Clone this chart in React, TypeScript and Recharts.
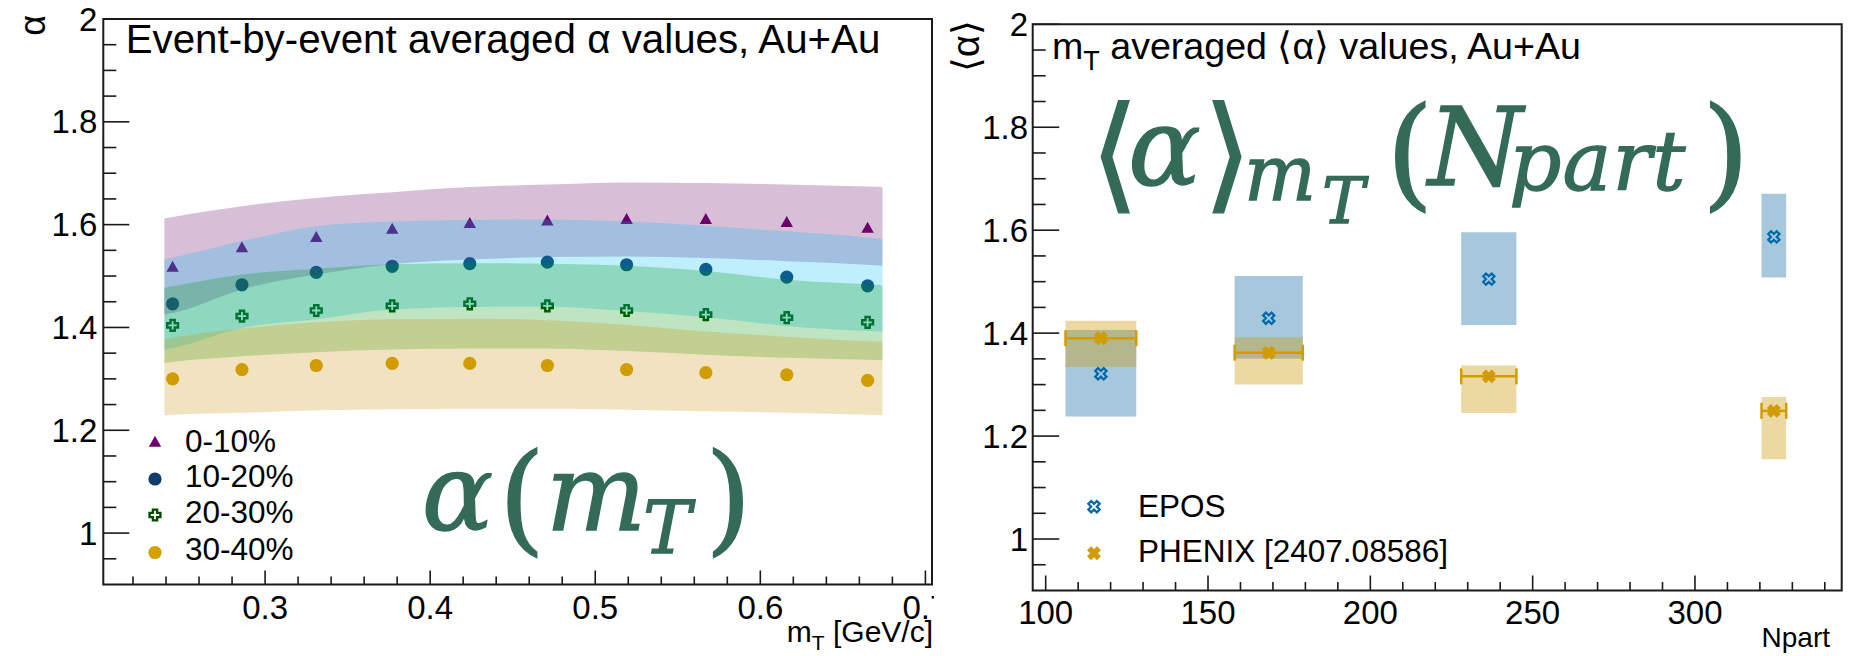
import React from 'react';
import {
  ComposedChart,
  Area,
  Scatter,
  XAxis,
  YAxis,
  ReferenceArea,
  ErrorBar,
} from 'recharts';

if (typeof document !== 'undefined') {
  document.body.style.margin = '0';
}

// ---------- left panel: event-by-event averaged alpha vs mT ----------
const centralities = ['0-10%', '10-20%', '20-30%', '30-40%'];

const mT = [0.244, 0.286, 0.331, 0.377, 0.424, 0.471, 0.519, 0.567, 0.616, 0.665];
const alpha0010 = [1.518, 1.556, 1.576, 1.592, 1.603, 1.608, 1.611, 1.611, 1.605, 1.594];
const alpha1020 = [1.446, 1.483, 1.507, 1.519, 1.524, 1.527, 1.522, 1.513, 1.498, 1.481];
const alpha2030 = [1.404, 1.422, 1.433, 1.442, 1.446, 1.442, 1.433, 1.425, 1.419, 1.410];
const alpha3040 = [1.300, 1.318, 1.326, 1.330, 1.330, 1.326, 1.318, 1.312, 1.308, 1.297];

// systematic bands, sampled at the band edges and at every point
const bandMT = [0.239, 0.244, 0.286, 0.331, 0.377, 0.424, 0.471, 0.519, 0.567, 0.616, 0.665, 0.674];
const band0010Lo = [1.425, 1.428, 1.474, 1.503, 1.523, 1.532, 1.537, 1.538, 1.535, 1.529, 1.522, 1.520];
const band0010Hi = [1.612, 1.615, 1.636, 1.652, 1.663, 1.673, 1.678, 1.682, 1.681, 1.678, 1.674, 1.673];
const band1020Lo = [1.357, 1.360, 1.399, 1.416, 1.435, 1.440, 1.441, 1.432, 1.420, 1.403, 1.393, 1.392];
const band1020Hi = [1.533, 1.536, 1.568, 1.597, 1.606, 1.609, 1.610, 1.606, 1.598, 1.587, 1.575, 1.572];
const band2030Lo = [1.331, 1.333, 1.344, 1.352, 1.357, 1.359, 1.359, 1.354, 1.347, 1.341, 1.337, 1.336];
const band2030Hi = [1.477, 1.480, 1.503, 1.514, 1.523, 1.525, 1.524, 1.520, 1.510, 1.493, 1.484, 1.482];
const band3040Lo = [1.229, 1.230, 1.234, 1.239, 1.241, 1.242, 1.242, 1.240, 1.237, 1.234, 1.230, 1.229];
const band3040Hi = [1.377, 1.380, 1.398, 1.410, 1.416, 1.417, 1.414, 1.405, 1.392, 1.382, 1.373, 1.372];

const leftXTicks = [0.22, 0.24, 0.26, 0.28, 0.3, 0.32, 0.34, 0.36, 0.38, 0.4, 0.42, 0.44, 0.46, 0.48, 0.5,
  0.52, 0.54, 0.56, 0.58, 0.6, 0.62, 0.64, 0.66, 0.68, 0.7];
const leftXMajor = [0.3, 0.4, 0.5, 0.6, 0.7];
const yTicks = [0.95, 1, 1.05, 1.1, 1.15, 1.2, 1.25, 1.3, 1.35, 1.4, 1.45, 1.5, 1.55, 1.6, 1.65, 1.7,
  1.75, 1.8, 1.85, 1.9, 1.95, 2];
const yMajor = [1, 1.2, 1.4, 1.6, 1.8, 2];

// ---------- right panel: mT averaged <alpha> vs Npart ----------
const npart = [117.0, 168.7, 236.5, 324.3];
const npartErr = [10.9, 10.5, 8.5, 3.8];
const eposAlpha = [1.321, 1.429, 1.505, 1.587];
const eposLo = [1.238, 1.350, 1.416, 1.508];
const eposHi = [1.406, 1.511, 1.596, 1.671];
const phenixAlpha = [1.390, 1.362, 1.316, 1.249];
const phenixLo = [1.334, 1.300, 1.245, 1.155];
const phenixHi = [1.424, 1.392, 1.337, 1.276];

const rightXTicks = [100, 110, 120, 130, 140, 150, 160, 170, 180, 190, 200, 210, 220, 230, 240, 250,
  260, 270, 280, 290, 300, 310, 320, 330, 340];
const rightXMajor = [100, 150, 200, 250, 300];

// ---------- styling ----------
const SANS = '"Liberation Sans", Arial, Helvetica, sans-serif';
const SERIF = '"DejaVu Serif", "DejaVu Sans", serif';
const FORMULA = '#336b57';
const AXIS = '#1a1a1a';

const markerColor = ['#6e006e', '#0f3c6e', '#004a00', '#d4a000'];
const bandColor = ['rgb(100,0,100)', 'rgb(0,191,247)', 'rgb(0,147,11)', 'rgb(199,143,0)'];
const EPOS_COLOR = '#0068a8';
const PHENIX_COLOR = '#d29b00';

type Shape = 'triangle' | 'circle' | 'openCross' | 'openX' | 'fullX';
const centralityShape: Shape[] = ['triangle', 'circle', 'openCross', 'circle'];

function plusPath(cx: number, cy: number, a: number, e: number) {
  return `M${cx - a},${cy - e}H${cx + a}V${cy - a}H${cx + e}V${cy + a}H${cx + a}V${cy + e}H${cx - a}V${cy + a}H${cx - e}V${cy - a}H${cx - a}Z`;
}

function Marker({ shape, cx, cy, color }: { shape: Shape; cx: number; cy: number; color: string }) {
  switch (shape) {
    case 'triangle':
      return <polygon points={`${cx},${cy - 6} ${cx - 6.2},${cy + 5} ${cx + 6.2},${cy + 5}`} fill={color} />;
    case 'circle':
      return <circle cx={cx} cy={cy} r={6.6} fill={color} />;
    case 'openCross':
      return <path d={plusPath(cx, cy, 2.1, 5.4)} fill="none" stroke={color} strokeWidth={2.4} />;
    case 'openX':
      return (
        <path d={plusPath(cx, cy, 2.0, 6.0)} fill="none" stroke={color} strokeWidth={2.2}
          transform={`rotate(45 ${cx} ${cy})`} />
      );
    case 'fullX':
    default:
      return <path d={plusPath(cx, cy, 2.8, 7.0)} fill={color} transform={`rotate(45 ${cx} ${cy})`} />;
  }
}

const near = (v: number, list: number[]) => list.some((b) => Math.abs(v - b) < 1e-6);

function makeXTick(majors: number[], labelDy: number, majorLen: number, minorLen: number) {
  return (props: any) => {
    const { x, y, payload } = props;
    const v = payload.value as number;
    const major = near(v, majors);
    return (
      <g>
        <line x1={x} x2={x} y1={y} y2={y - (major ? majorLen : minorLen)} stroke={AXIS} strokeWidth={1.6} />
        {major && (
          <text x={x} y={y + labelDy} textAnchor="middle" fontSize={33} fontFamily={SANS} fill="#000">
            {String(v)}
          </text>
        )}
      </g>
    );
  };
}

function makeYTick(majors: number[], gap: number, majorLen: number, minorLen: number) {
  return (props: any) => {
    const { x, y, payload } = props;
    const v = payload.value as number;
    const major = near(v, majors);
    return (
      <g>
        <line x1={x} x2={x + (major ? majorLen : minorLen)} y1={y} y2={y} stroke={AXIS} strokeWidth={1.6} />
        {major && (
          <text x={x - gap} y={y + 11.5} textAnchor="end" fontSize={33} fontFamily={SANS} fill="#000">
            {String(v)}
          </text>
        )}
      </g>
    );
  };
}

const bandRows = bandMT.map((m, i) => ({
  mT: m,
  b0: [band0010Lo[i], band0010Hi[i]],
  b1: [band1020Lo[i], band1020Hi[i]],
  b2: [band2030Lo[i], band2030Hi[i]],
  b3: [band3040Lo[i], band3040Hi[i]],
}));

const centralitySeries = [alpha0010, alpha1020, alpha2030, alpha3040].map((vals) =>
  mT.map((m, i) => ({ mT: m, v: vals[i] })),
);

const eposRows = npart.map((n, i) => ({ npart: n, v: eposAlpha[i], dx: npartErr[i] }));
const phenixRows = npart.map((n, i) => ({ npart: n, v: phenixAlpha[i], dx: npartErr[i] }));

function LeftPanel() {
  return (
    <ComposedChart width={934} height={656} data={bandRows} margin={{ top: 19, right: 2, bottom: 0, left: 0 }}>
      <XAxis dataKey="mT" type="number" domain={[0.202, 0.704]} allowDataOverflow ticks={leftXTicks}
        interval={0} height={71.5} tickSize={0} tickMargin={0} axisLine={false}
        tick={makeXTick(leftXMajor, 34.5, 14, 8)} />
      <YAxis dataKey="v" type="number" domain={[0.9, 2]} allowDataOverflow ticks={yTicks}
        interval={0} width={103.3} tickSize={0} tickMargin={0} axisLine={false}
        tick={makeYTick(yMajor, 6, 26, 13)} />
      {centralitySeries.map((rows, k) => (
        <Scatter key={`pts${k}`} data={rows} isAnimationActive={false} zIndex={50}
          shape={(p: any) => <Marker shape={centralityShape[k]} cx={p.cx} cy={p.cy} color={markerColor[k]} />} />
      ))}
      {['b0', 'b1', 'b2', 'b3'].map((key, k) => (
        <Area key={key} dataKey={key} type="monotone" stroke="none" fill={bandColor[k]} fillOpacity={0.25}
          isAnimationActive={false} dot={false} activeDot={false} zIndex={100} />
      ))}
      <ReferenceArea x1={0.202} x2={0.704} y1={0.9} y2={2} fill="none" stroke={AXIS} strokeWidth={2}
        zIndex={200} />
    </ComposedChart>
  );
}

function RightPanel() {
  return (
    <ComposedChart width={917} height={656} margin={{ top: 24.3, right: 9.3, bottom: 0, left: 0 }}>
      <XAxis dataKey="npart" type="number" domain={[96, 345.2]} allowDataOverflow ticks={rightXTicks}
        interval={0} height={65.5} tickSize={0} tickMargin={0} axisLine={false}
        tick={makeXTick(rightXMajor, 33.3, 15, 8.5)} />
      <YAxis dataKey="v" type="number" domain={[0.9, 2]} allowDataOverflow ticks={yTicks}
        interval={0} width={98.7} tickSize={0} tickMargin={0} axisLine={false}
        tick={makeYTick(yMajor, 4.7, 26.5, 13)} />
      {npart.map((n, i) => (
        <ReferenceArea key={`epos${i}`} x1={n - npartErr[i]} x2={n + npartErr[i]} y1={eposLo[i]} y2={eposHi[i]}
          fill="rgb(17,106,160)" fillOpacity={0.37} stroke="none" />
      ))}
      {npart.map((n, i) => (
        <ReferenceArea key={`phenix${i}`} x1={n - npartErr[i]} x2={n + npartErr[i]} y1={phenixLo[i]}
          y2={phenixHi[i]} fill="rgb(204,152,0)" fillOpacity={0.37} stroke="none" />
      ))}
      <Scatter data={eposRows} isAnimationActive={false}
        shape={(p: any) => <Marker shape="openX" cx={p.cx} cy={p.cy} color={EPOS_COLOR} />} />
      <Scatter data={phenixRows} isAnimationActive={false}
        shape={(p: any) => <Marker shape="fullX" cx={p.cx} cy={p.cy} color={PHENIX_COLOR} />}>
        <ErrorBar dataKey="dx" direction="x" width={8} stroke={PHENIX_COLOR} strokeWidth={2.5} />
      </Scatter>
      <ReferenceArea x1={96} x2={345.2} y1={0.9} y2={2} fill="none" stroke={AXIS} strokeWidth={2} />
    </ComposedChart>
  );
}

function Annotations() {
  const leftLegendY = [441.7, 479, 515, 552.5];
  const leftLegendBase = [451.7, 486.7, 523.3, 560];
  return (
    <svg width={1851} height={656} style={{ position: 'absolute', left: 0, top: 0, pointerEvents: 'none' }}>
      {/* panel titles */}
      <text x={125.7} y={53.3} fontSize={40.3} fontFamily={SANS} fill="#000">
        Event-by-event averaged α values, Au+Au
      </text>
      <text x={1052} y={59.3} fontSize={37.6} fontFamily={SANS} fill="#000">
        m<tspan fontSize={27} dy={10.7}>T</tspan>
        <tspan dy={-10.7}> averaged ⟨α⟩ values, Au+Au</tspan>
      </text>

      {/* axis titles */}
      <text transform="translate(45,15) rotate(-90)" textAnchor="end" fontSize={36} fontFamily={SANS}>α</text>
      <text transform="translate(979,20) rotate(-90)" textAnchor="end" fontSize={38} fontFamily={SANS}>⟨α⟩</text>
      <text x={933} y={642} textAnchor="end" fontSize={30} fontFamily={SANS}>
        m<tspan fontSize={21} dy={8}>T</tspan>
        <tspan dy={-8}> [GeV/c]</tspan>
      </text>
      <text x={1830} y={646.7} textAnchor="end" fontSize={28} fontFamily={SANS}>Npart</text>

      {/* legends */}
      {centralities.map((label, k) => (
        <g key={label}>
          <Marker shape={centralityShape[k]} cx={155} cy={leftLegendY[k]} color={markerColor[k]} />
          <text x={185} y={leftLegendBase[k]} fontSize={31.5} fontFamily={SANS}>{label}</text>
        </g>
      ))}
      <Marker shape="openX" cx={1094} cy={506.7} color={EPOS_COLOR} />
      <text x={1138} y={516.7} fontSize={31.5} fontFamily={SANS}>EPOS</text>
      <Marker shape="fullX" cx={1094} cy={553.3} color={PHENIX_COLOR} />
      <text x={1138} y={562} fontSize={31.5} fontFamily={SANS}>PHENIX [2407.08586]</text>

      {/* formulas */}
      <text fill={FORMULA} stroke={FORMULA} strokeWidth={1.3} fontFamily={SERIF}>
        <tspan x={421.8} y={530} fontSize={106} fontStyle="italic">α</tspan>
        <tspan x={498.5} y={539} fontSize={120}>(</tspan>
        <tspan x={545.7} y={530} fontSize={106} fontStyle="italic">m</tspan>
        <tspan x={643} y={553} fontSize={72} fontStyle="italic">T</tspan>
        <tspan x={705} y={539} fontSize={120}>)</tspan>
      </text>
      <text fill={FORMULA} stroke={FORMULA} strokeWidth={1.3} fontFamily={SERIF}>
        <tspan x={1090} y={196} fontSize={126}>⟨</tspan>
        <tspan x={1128} y={185} fontSize={108} fontStyle="italic">α</tspan>
        <tspan x={1203} y={196} fontSize={126}>⟩</tspan>
        <tspan x={1244} y={200} fontSize={76} fontStyle="italic">m</tspan>
        <tspan x={1322} y={223} fontSize={64} fontStyle="italic">T</tspan>
        <tspan x={1386} y={194} fontSize={122}>(</tspan>
        <tspan x={1428} y={185} fontSize={108} fontStyle="italic">N</tspan>
        <tspan x={1509} y={190} fontSize={82} fontStyle="italic" letterSpacing={1}>part</tspan>
        <tspan x={1702} y={194} fontSize={122}>)</tspan>
      </text>
    </svg>
  );
}

export default function App() {
  return (
    <div style={{ position: 'relative', width: 1851, height: 656, background: '#fff', fontFamily: SANS }}>
      <div style={{ position: 'absolute', left: 0, top: 0 }}>
        <LeftPanel />
      </div>
      <div style={{ position: 'absolute', left: 934, top: 0 }}>
        <RightPanel />
      </div>
      <Annotations />
    </div>
  );
}
